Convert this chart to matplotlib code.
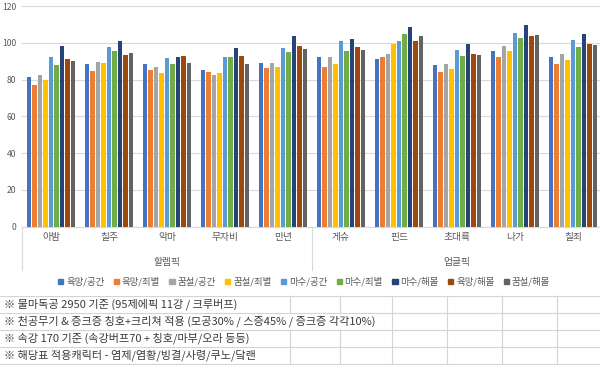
import numpy as np
import matplotlib.pyplot as plt
from matplotlib.patches import Patch
import matplotlib.transforms as mtransforms

plt.rcParams['font.family'] = ['Noto Sans CJK KR', 'DejaVu Sans']

#=====================================================================
#                           data
#=====================================================================
categories = ['아밤', '칠주', '악마', '무자비', '만년',
              '게슈', '핀드', '초대륙', '나가', '칠죄']
groups     = ['할렘픽', '업글픽']
series     = ['육망/공간', '육망/죄별', '꿈설/공간', '꿈설/죄별', '마수/공간',
              '마수/죄별', '마수/해몰', '육망/해몰', '꿈설/해몰']
colors     = ['#4472C4', '#ED7D31', '#A5A5A5', '#FFC000', '#5B9BD5',
              '#70AD47', '#264478', '#9E480E', '#636363']

yuk_gong  = [81.3, 88.4, 88.4, 85.1, 89.1, 92.6, 91.3, 87.8, 95.6, 92.6]
yuk_joe   = [77.3, 84.8, 85.1, 84.2, 86.6, 87.1, 92.6, 84.2, 92.6, 88.7]
kum_gong  = [82.4, 89.8, 87.1, 82.8, 89.1, 92.6, 94.2, 88.6, 98.4, 93.8]
kum_joe   = [79.7, 89.1, 83.7, 83.7, 87.1, 88.4, 99.3, 86.0, 95.6, 90.7]
masu_gong = [92.2, 97.6, 91.8, 92.6, 97.3, 100.9, 101.1, 96.2, 105.4, 101.6]
masu_joe  = [87.8, 95.6, 88.4, 92.6, 94.9, 95.6, 105.1, 92.9, 102.7, 98.0]
masu_hae  = [98.4, 100.9, 92.2, 97.3, 103.6, 102.4, 108.5, 99.3, 109.8, 105.1]
yuk_hae   = [91.1, 93.5, 92.9, 92.9, 98.5, 98.0, 100.9, 94.2, 103.6, 99.6]
kum_hae   = [90.2, 94.6, 89.3, 88.7, 96.6, 96.0, 104.0, 93.5, 104.4, 98.9]
values = [yuk_gong, yuk_joe, kum_gong, kum_joe, masu_gong,
          masu_joe, masu_hae, yuk_hae, kum_hae]

notes = ['※ 물마독공 2950 기준 (95제에픽 11강 / 크루버프)',
         '※ 천공무기 & 증크증 칭호+크리쳐 적용 (모공30% / 스증45% / 증크증 각각10%)',
         '※ 속강 170 기준 (속강버프70 + 칭호/마부/오라 등등)',
         '※ 해당표 적용캐릭터 - 염제/염황/빙결/사령/쿠노/닼랜']

#=====================================================================
#                           plot
#=====================================================================
W, H = 600, 365
fig = plt.figure(figsize=(6, 3.65), dpi=100)
fx = lambda px: px / W
fy = lambda py: 1 - py / H

ax = fig.add_axes([fx(22), fy(226.7), fx(580), (226.7 - 6.2) / H])
x = np.arange(len(categories))
step, width = 0.094, 0.075
for j, (name, vals) in enumerate(zip(series, values)):
    ax.bar(x + (j - 4) * step, vals, width, color=colors[j], label=name, zorder=3)

ax.set_xlim(-0.5, 9.5)
ax.set_ylim(0, 120)
ax.set_yticks(range(0, 121, 20))
ax.grid(axis='y', color='#D9D9D9', lw=0.8, zorder=0)
for s in ['top', 'right', 'left']:
    ax.spines[s].set_visible(False)
ax.spines['bottom'].set_color('#D9D9D9')
ax.tick_params(axis='y', length=0, labelsize=6.2, labelcolor='#595959', pad=4)
ax.tick_params(axis='x', length=0, labelsize=7, labelcolor='#595959', pad=4)
ax.set_xticks(x)
ax.set_xticklabels(categories)

# multi-level category axis
trans = mtransforms.blended_transform_factory(ax.transData, fig.transFigure)
for xs in [-0.5, 4.5, 9.5]:
    ax.plot([xs, xs], [fy(227), fy(270)], color='#D9D9D9', lw=0.8,
            transform=trans, clip_on=False)
for k, g in enumerate(groups):
    ax.text(2 + 5 * k, fy(262), g, transform=trans, ha='center', va='center',
            fontsize=7, color='#595959')

handles = [Patch(color=c) for c in colors]
fig.legend(handles, series, loc='center', bbox_to_anchor=(fx(304), fy(282)),
           ncol=9, frameon=False, fontsize=6.8, handlelength=0.55,
           handleheight=0.55, handletextpad=0.3, columnspacing=1.0,
           labelcolor='#595959')

# spreadsheet cells under the chart
rows = [296, 313, 330, 347, 364]
cols = [290, 340, 392, 447, 502, 557]
text_end = [233, 373, 275, 262]
for r in rows:
    fig.add_artist(plt.Line2D([0, 1], [fy(r), fy(r)], color='#D4D4D4', lw=0.8))
for i in range(4):
    for c in cols:
        if c > text_end[i]:
            fig.add_artist(plt.Line2D([fx(c), fx(c)], [fy(rows[i]), fy(rows[i + 1])],
                                      color='#D4D4D4', lw=0.8))
    fig.text(fx(4), fy((rows[i] + rows[i + 1]) / 2), notes[i], ha='left',
             va='center', fontsize=8, color='#3A3A3A')

fig.savefig('out.png', dpi=100)
